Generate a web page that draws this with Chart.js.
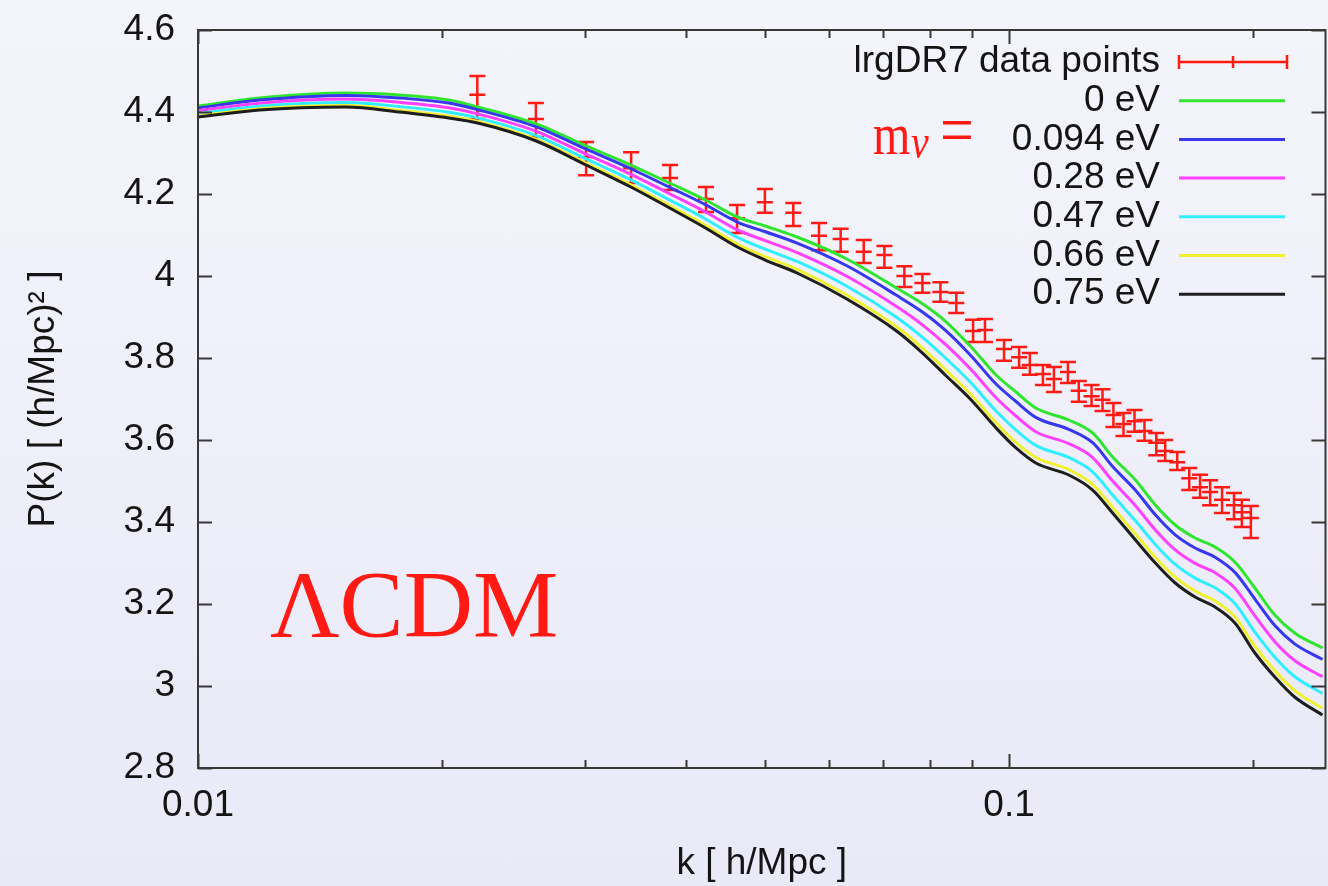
<!DOCTYPE html>
<html><head><meta charset="utf-8">
<script src="https://cdn.jsdelivr.net/npm/chart.js@4/dist/chart.umd.min.js"></script>
<style>
html,body{margin:0;padding:0;overflow:hidden;width:1328px;height:886px;background:linear-gradient(#f4f5fb,#e9e9f8);}
canvas{display:block;}
</style></head><body>
<canvas id="c" width="1336" height="886" style="width:1336px;height:886px"></canvas>
<script>
// ---- data ----
const kCurve = [0.0100, 0.01191, 0.01523, 0.01770, 0.02038, 0.02212, 0.02613, 0.03010, 0.03418, 0.03815, 0.04225, 0.04624, 0.05005, 0.05479, 0.06310, 0.07266, 0.07798, 0.08370, 0.08982, 0.09639, 0.1020, 0.1079, 0.1185, 0.1268, 0.1342, 0.1432, 0.1515, 0.1603, 0.1696, 0.1795, 0.1899, 0.2010, 0.2127, 0.2250, 0.2435];
const m0eV   = [4.4146, 4.4341, 4.4463, 4.4415, 4.4293, 4.4122, 4.3707, 4.3171, 4.2707, 4.2268, 4.1854, 4.1439, 4.1220, 4.0951, 4.0415, 3.9707, 3.9341, 3.8878, 3.8268, 3.7585, 3.7171, 3.6780, 3.6488, 3.6171, 3.5585, 3.5024, 3.4415, 3.3927, 3.3610, 3.3390, 3.3024, 3.2390, 3.1732, 3.1293, 3.0927];
const m0094eV= [4.4100, 4.4291, 4.4405, 4.4344, 4.4218, 4.4056, 4.3637, 4.3092, 4.2616, 4.2164, 4.1738, 4.1315, 4.1079, 4.0802, 4.0249, 3.9529, 3.9138, 3.8654, 3.8048, 3.7365, 3.6939, 3.6552, 3.6260, 3.5935, 3.5353, 3.4775, 3.4174, 3.3686, 3.3365, 3.3141, 3.2771, 3.2121, 3.1475, 3.1028, 3.0649];
const m028eV = [4.4031, 4.4215, 4.4316, 4.4237, 4.4104, 4.3954, 4.3529, 4.2971, 4.2477, 4.2006, 4.1560, 4.1124, 4.0863, 4.0573, 3.9995, 3.9256, 3.8827, 3.8312, 3.7712, 3.7029, 3.6584, 3.6203, 3.5911, 3.5573, 3.4998, 3.4395, 3.3807, 3.3319, 3.2991, 3.2761, 3.2385, 3.1708, 3.1082, 3.0622, 3.0224];
const m047eV = [4.3964, 4.4142, 4.4231, 4.4133, 4.3994, 4.3857, 4.3425, 4.2855, 4.2343, 4.1854, 4.1390, 4.0941, 4.0656, 4.0354, 3.9751, 3.8994, 3.8528, 3.7982, 3.7389, 3.6706, 3.6242, 3.5868, 3.5575, 3.5225, 3.4657, 3.4029, 3.3453, 3.2965, 3.2632, 3.2395, 3.2013, 3.1312, 3.0704, 3.0232, 2.9816];
const m066eV = [4.3905, 4.4078, 4.4156, 4.4042, 4.3898, 4.3771, 4.3334, 4.2753, 4.2225, 4.1720, 4.1239, 4.0780, 4.0473, 4.0161, 3.9537, 3.8764, 3.8266, 3.7693, 3.7105, 3.6422, 3.5942, 3.5573, 3.5280, 3.4919, 3.4357, 3.3707, 3.3142, 3.2654, 3.2315, 3.2073, 3.1686, 3.0964, 3.0371, 2.9888, 2.9456];
const m075eV = [4.3878, 4.4049, 4.4122, 4.4000, 4.3854, 4.3732, 4.3293, 4.2707, 4.2171, 4.1659, 4.1171, 4.0707, 4.0390, 4.0073, 3.9439, 3.8659, 3.8146, 3.7561, 3.6976, 3.6293, 3.5805, 3.5439, 3.5146, 3.4780, 3.4220, 3.3561, 3.3000, 3.2512, 3.2171, 3.1927, 3.1537, 3.0805, 3.0220, 2.9732, 2.9293];

const kData = [0.0221, 0.0261, 0.0301, 0.0342, 0.0382, 0.0423, 0.0462, 0.0500, 0.0542, 0.0583, 0.0620, 0.0662, 0.0702, 0.0743, 0.0782, 0.0823, 0.0861, 0.0903, 0.0934, 0.0986, 0.1029, 0.1061, 0.1101, 0.1136, 0.1182, 0.1219, 0.1264, 0.1304, 0.1345, 0.1384, 0.1428, 0.1469, 0.1519, 0.1558, 0.1612, 0.1668, 0.1720, 0.1770, 0.1831, 0.1894, 0.1937, 0.1987];
const pData = [4.442, 4.383, 4.290, 4.263, 4.239, 4.188, 4.141, 4.180, 4.154, 4.098, 4.090, 4.059, 4.051, 4.000, 3.983, 3.961, 3.934, 3.866, 3.868, 3.822, 3.802, 3.783, 3.761, 3.749, 3.766, 3.720, 3.707, 3.698, 3.661, 3.639, 3.646, 3.622, 3.593, 3.573, 3.546, 3.507, 3.485, 3.473, 3.454, 3.441, 3.424, 3.410];
const pHigh = [4.488, 4.422, 4.327, 4.302, 4.271, 4.217, 4.173, 4.212, 4.178, 4.129, 4.115, 4.088, 4.073, 4.024, 4.005, 3.985, 3.959, 3.893, 3.895, 3.844, 3.827, 3.812, 3.783, 3.778, 3.790, 3.744, 3.734, 3.724, 3.690, 3.666, 3.673, 3.649, 3.617, 3.600, 3.571, 3.532, 3.515, 3.502, 3.485, 3.471, 3.454, 3.439];
const pLow  = [4.383, 4.339, 4.246, 4.227, 4.210, 4.156, 4.105, 4.154, 4.122, 4.063, 4.059, 4.032, 4.020, 3.973, 3.959, 3.937, 3.910, 3.839, 3.839, 3.793, 3.776, 3.759, 3.734, 3.717, 3.739, 3.693, 3.683, 3.671, 3.632, 3.610, 3.620, 3.598, 3.563, 3.549, 3.527, 3.478, 3.459, 3.441, 3.422, 3.407, 3.388, 3.361];

const seriesLabels = ['lrgDR7 data points', '0 eV', '0.094 eV', '0.28 eV', '0.47 eV', '0.66 eV', '0.75 eV'];
const xTickValues = [0.01, 0.02, 0.03, 0.04, 0.05, 0.06, 0.07, 0.08, 0.09, 0.1, 0.2];
const xTickLabels = ['0.01', '', '', '', '', '', '', '', '', '0.1', ''];
const yTickValues = [2.8, 3, 3.2, 3.4, 3.6, 3.8, 4, 4.2, 4.4, 4.6];
const yTickLabels = ['2.8', '3', '3.2', '3.4', '3.6', '3.8', '4', '4.2', '4.4', '4.6'];
const xTitle = 'k [ h/Mpc ]';
const yTitle = 'P(k) [ (h/Mpc)\u00B2 ]';
const bigLabel = '\u039BCDM';

// ---- styles ----
const RED = '#ff1a14';
const TXT = '#141414';
const SANS = "'Liberation Sans', Arial, Helvetica, sans-serif";
const SERIF = "'Liberation Serif', 'Times New Roman', serif";
const lineColors = ['#2fe52f', '#3737ee', '#ff40ff', '#30eeff', '#f0f030', '#1e1e1e'];
const curveArrays = [m0eV, m0094eV, m028eV, m047eV, m066eV, m075eV];

const datasets = [{
  label: seriesLabels[0],
  data: kData.map((k, i) => ({x: k, y: pData[i]})),
  showLine: false,
  pointStyle: 'line',
  pointRadius: 8,
  pointHoverRadius: 8,
  borderColor: RED,
  backgroundColor: RED,
  borderWidth: 2.5,
  order: 10
}];
curveArrays.forEach((arr, j) => {
  datasets.push({
    label: seriesLabels[j + 1],
    data: kCurve.map((k, i) => ({x: k, y: arr[i]})),
    borderColor: lineColors[j],
    backgroundColor: lineColors[j],
    borderWidth: 3,
    pointRadius: 0,
    cubicInterpolationMode: 'monotone',
    fill: false,
    order: 6 - j
  });
});

const gnuplotLook = {
  id: 'gnuplotLook',
  beforeDatasetsDraw(chart) {
    const {ctx, scales: {x, y}} = chart;
    ctx.save();
    ctx.strokeStyle = RED;
    ctx.lineWidth = 2.5;
    ctx.beginPath();
    for (let i = 0; i < kData.length; i++) {
      const px = x.getPixelForValue(kData[i]);
      const yh = y.getPixelForValue(pHigh[i]);
      const yl = y.getPixelForValue(pLow[i]);
      ctx.moveTo(px, yh); ctx.lineTo(px, yl);
      ctx.moveTo(px - 8, yh); ctx.lineTo(px + 8, yh);
      ctx.moveTo(px - 8, yl); ctx.lineTo(px + 8, yl);
    }
    ctx.stroke();
    ctx.restore();
  },
  afterDraw(chart) {
    const {ctx, chartArea: a, scales: {x, y}} = chart;
    ctx.save();
    // frame
    ctx.strokeStyle = '#383838';
    ctx.lineWidth = 2;
    ctx.strokeRect(a.left, a.top, a.right - a.left, a.bottom - a.top);
    // inward ticks
    ctx.beginPath();
    x.ticks.forEach((t, i) => {
      const px = Math.round(x.getPixelForValue(t.value)) + 0.5;
      const len = xTickLabels[i] ? 14 : 8;
      ctx.moveTo(px, a.bottom); ctx.lineTo(px, a.bottom - len);
      ctx.moveTo(px, a.top); ctx.lineTo(px, a.top + len);
    });
    y.ticks.forEach((t) => {
      const py = Math.round(y.getPixelForValue(t.value)) + 0.5;
      ctx.moveTo(a.left, py); ctx.lineTo(a.left + 14, py);
      ctx.moveTo(a.right, py); ctx.lineTo(a.right - 14, py);
    });
    ctx.stroke();

    // legend
    const tx = 1160, x0 = 1179, x1 = 1287, y0 = 62, dy = 38.7;
    ctx.font = '37px ' + SANS;
    ctx.textAlign = 'right';
    ctx.textBaseline = 'middle';
    ctx.fillStyle = TXT;
    seriesLabels.forEach((lab, i) => {
      const ly = y0 + i * dy;
      ctx.fillText(lab, tx, ly);
      ctx.beginPath();
      if (i === 0) {
        ctx.strokeStyle = RED; ctx.lineWidth = 2.5;
        ctx.moveTo(x0, ly); ctx.lineTo(x1, ly);
        ctx.moveTo(x0, ly - 7); ctx.lineTo(x0, ly + 7);
        ctx.moveTo(x1, ly - 7); ctx.lineTo(x1, ly + 7);
        ctx.moveTo((x0 + x1) / 2, ly - 6); ctx.lineTo((x0 + x1) / 2, ly + 6);
      } else {
        ctx.strokeStyle = lineColors[i - 1]; ctx.lineWidth = 3;
        ctx.moveTo(x0, ly); ctx.lineTo(x1 - 2, ly);
      }
      ctx.stroke();
    });

    // annotations
    ctx.fillStyle = RED;
    ctx.textAlign = 'left';
    ctx.textBaseline = 'alphabetic';
    ctx.font = '96px ' + SERIF;
    ctx.fillText(bigLabel, 270, 637);

    ctx.save(); ctx.translate(873, 154); ctx.scale(1, 1.25);
    ctx.font = '48px ' + SERIF; ctx.fillText('m', 0, 0); ctx.restore();
    ctx.save(); ctx.translate(911, 158); ctx.scale(1, 1.2);
    ctx.font = 'italic 40px ' + SERIF; ctx.fillText('\u03BD', 0, 0); ctx.restore();
    ctx.save(); ctx.translate(940, 154); ctx.scale(1, 1.2);
    ctx.font = '60px ' + SERIF; ctx.fillText('=', 0, 0); ctx.restore();

    ctx.restore();
  }
};

const tickFont = {family: SANS, size: 37};
new Chart(document.getElementById('c'), {
  type: 'line',
  data: {datasets},
  options: {
    responsive: false,
    animation: false,
    devicePixelRatio: 1,
    layout: {padding: {left: 0, top: 30, right: 5, bottom: 0}},
    plugins: {legend: {display: false}, tooltip: {enabled: false}, title: {display: false}},
    scales: {
      x: {
        type: 'logarithmic',
        min: 0.01,
        max: 0.2456,
        afterBuildTicks: (s) => { s.ticks = xTickValues.map(v => ({value: v})); },
        afterFit: (s) => { s.height = 118; s.paddingLeft = 0; s.paddingRight = 0; },
        ticks: {autoSkip: false, maxRotation: 0, minRotation: 0, padding: 16, font: tickFont, color: TXT,
                callback: (v, i) => xTickLabels[i]},
        grid: {display: false, drawTicks: false},
        border: {display: false},
        title: {display: true, text: xTitle, font: tickFont, color: TXT, padding: {top: 0, bottom: 0}}
      },
      y: {
        type: 'linear',
        min: 2.8,
        max: 4.6,
        afterBuildTicks: (s) => { s.ticks = yTickValues.map(v => ({value: v})); },
        afterFit: (s) => { s.width = 198; s.paddingTop = 0; s.paddingBottom = 0; },
        ticks: {padding: 23, font: tickFont, color: TXT, callback: (v, i) => yTickLabels[i]},
        grid: {display: false, drawTicks: false},
        border: {display: false},
        title: {display: true, text: yTitle, font: tickFont, color: TXT, padding: {top: 22, bottom: 0}}
      }
    }
  },
  plugins: [gnuplotLook]
});
</script></body></html>
